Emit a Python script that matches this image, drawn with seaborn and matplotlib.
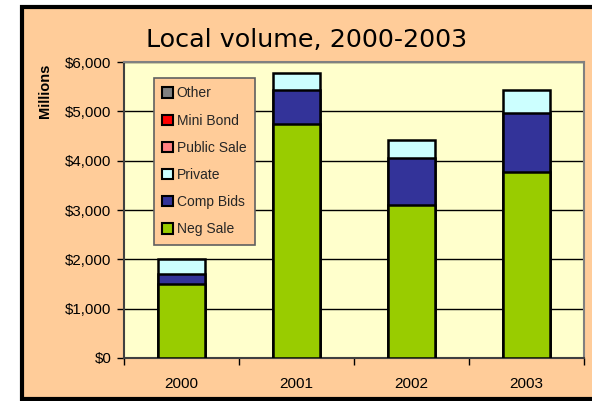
import numpy as np
import pandas as pd
import matplotlib
matplotlib.use("Agg")
import matplotlib.pyplot as plt
from matplotlib.patches import Rectangle, Patch
from matplotlib.ticker import FuncFormatter, FixedLocator
import seaborn as sns

# Local issuance volume by sale type, $ millions
years = ["2000", "2001", "2002", "2003"]
neg_sale = [1490, 4750, 3100, 3770]
comp_bids = [210, 680, 950, 1200]
private = [310, 340, 360, 460]
public_sale = [0, 0, 0, 0]
mini_bond = [0, 0, 0, 0]
other = [0, 0, 0, 0]

series_names = ["Neg Sale", "Comp Bids", "Private", "Public Sale", "Mini Bond", "Other"]
series_values = [neg_sale, comp_bids, private, public_sale, mini_bond, other]
series_colors = ["#99CC00", "#333399", "#CCFFFF", "#FF8080", "#FF0000", "#808080"]

PEACH = "#FFCC99"
PLOT_BG = "#FFFFCC"

sns.set_theme(style="white")
plt.rcParams["font.family"] = ["Liberation Sans", "DejaVu Sans"]

df = pd.DataFrame({"year": years})
for name, vals in zip(series_names, series_values):
    df[name] = vals

fig = plt.figure(figsize=(5.92, 4.01), dpi=100)
fig.patch.set_facecolor("white")

# Chart-area panel with heavy black frame
W, H = 592.0, 401.0
fig.patches.append(Rectangle((22 / W, 2 / H), 1.0, (399 - 7) / H,
                             transform=fig.transFigure, facecolor=PEACH,
                             edgecolor="black", linewidth=3, zorder=-10))

ax = fig.add_axes([124 / W, (H - 358) / H, (584 - 124) / W, (358 - 62) / H])
ax.set_facecolor(PLOT_BG)

# Stacked bars: draw cumulative totals from the top segment down
cum = df[series_names].cumsum(axis=1)
for name, color in reversed(list(zip(series_names[:3], series_colors[:3]))):
    sns.barplot(x=df["year"], y=cum[name], color=color, width=0.41,
                edgecolor="black", linewidth=1.8, saturation=1, ax=ax, zorder=3)

ax.set_ylim(0, 6000)
ax.set_xlim(-0.5, 3.5)
ax.set_yticks(np.arange(0, 6001, 1000))
ax.yaxis.set_major_formatter(FuncFormatter(lambda v, p: f"${v:,.0f}"))
ax.grid(axis="y", color="black", linewidth=1, zorder=1)
ax.set_axisbelow(True)

ax.xaxis.set_major_locator(FixedLocator([0, 1, 2, 3]))
ax.set_xticklabels(years)
ax.xaxis.set_minor_locator(FixedLocator([-0.5, 0.5, 1.5, 2.5, 3.5]))
ax.tick_params(axis="x", which="major", length=0, pad=14, labelsize=11, colors="black")
ax.tick_params(axis="x", which="minor", length=5, width=1, color="black", bottom=True, direction="out")
ax.tick_params(axis="y", length=5, width=1, color="black", left=True, direction="out",
               pad=4, labelsize=10.8, labelcolor="black")
ax.set_xlabel("")
ax.set_ylabel("")

for side in ["top", "right", "bottom", "left"]:
    ax.spines[side].set_visible(True)
    ax.spines[side].set_color("#808080")
    ax.spines[side].set_linewidth(1.5)
ax.spines["left"].set_color("#404040")
ax.spines["bottom"].set_color("#404040")

fig.text(45 / W, (H - 91) / H, "Millions", rotation=90, ha="center", va="center",
         fontsize=10.5, fontweight="bold", color="black")

fig.text(307 / W, (H - 46.5) / H, "Local volume, 2000-2003", ha="center",
         va="baseline", fontsize=18.3, color="black",
         family=["DejaVu Sans"])

handles = [Patch(facecolor=c, edgecolor="black", linewidth=1.5, label=n)
           for n, c in zip(series_names, series_colors)][::-1]
leg = ax.legend(handles=handles, loc="upper left", bbox_to_anchor=(0.065, 0.946),
                borderaxespad=0, frameon=True, fancybox=False, fontsize=10,
                handlelength=0.75, handleheight=0.75, handletextpad=0.3,
                labelspacing=0.95, borderpad=0.6)
leg.get_frame().set_facecolor(PEACH)
leg.get_frame().set_edgecolor("#606060")
leg.get_frame().set_linewidth(1.2)
leg.get_frame().set_alpha(1)
leg.set_zorder(5)

fig.savefig("out.png", dpi=100)
